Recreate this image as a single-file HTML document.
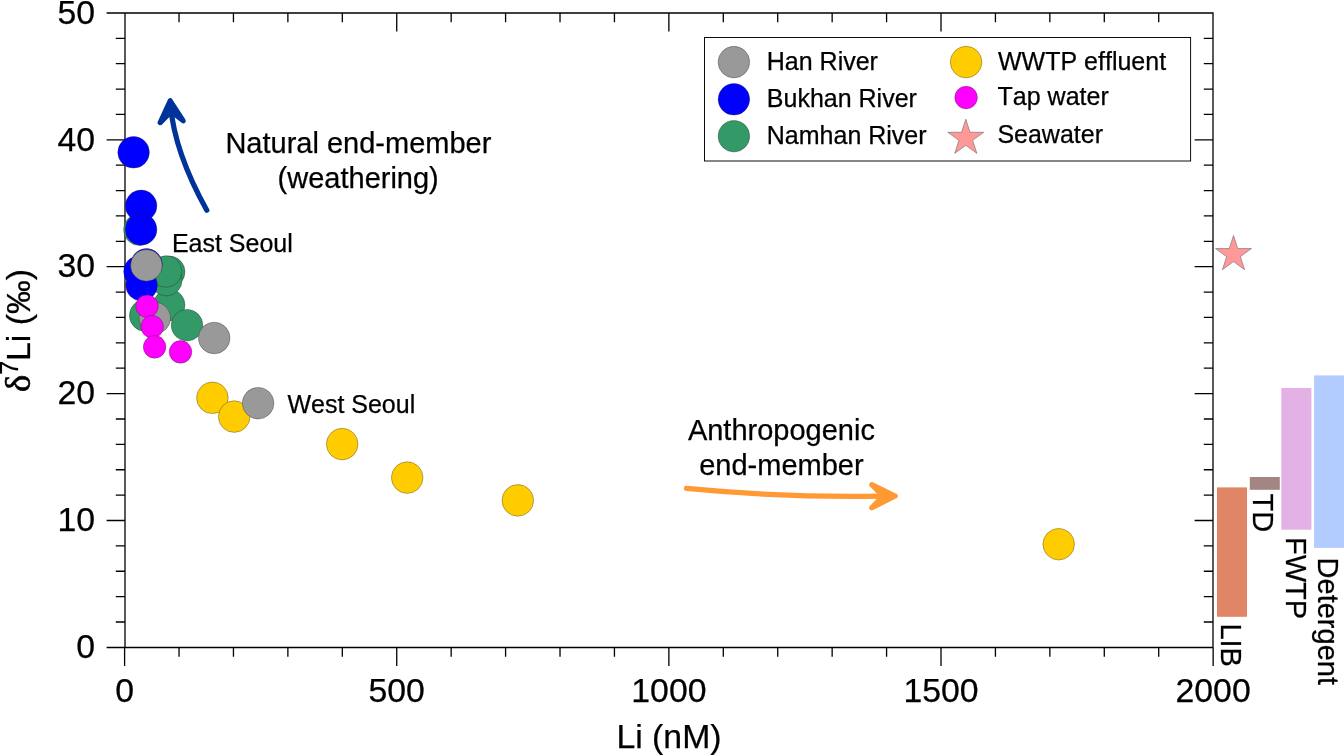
<!DOCTYPE html>
<html lang="en"><head><meta charset="utf-8"><title>Li isotopes vs Li concentration</title>
<style>html,body{margin:0;padding:0;background:#fff;}svg{display:block;}text{font-family:"Liberation Sans",Arial,Helvetica,sans-serif;fill:#000;stroke:#000;stroke-width:0.25px;font-kerning:none;}</style>
</head><body>
<svg width="1344" height="755" viewBox="0 0 1344 755">
<rect width="1344" height="755" fill="#fff"/>
<g>
<rect x="1217" y="487.4" width="30" height="129.4" fill="#E08566"/>
<rect x="1249.8" y="477" width="30" height="12.8" fill="#A38583"/>
<rect x="1281.3" y="388" width="30.1" height="141.7" fill="#E3B1E5"/>
<rect x="1314" y="375.4" width="31" height="172.5" fill="#B3CCFF"/>
</g>
<g stroke="#000" stroke-width="1.3" fill="none" stroke-linecap="butt">
<path d="M106.60 13.00H1213.65M106.60 647.50H1213.65M125.00 12.35V647.50M1213.00 12.35V647.50M124.60 647.50v18.40M1213.14 647.50v18.40"/>
<path d="M115.80 622.02H125.00M1203.80 622.02H1213.00M115.80 596.64H125.00M1203.80 596.64H1213.00M115.80 571.26H125.00M1203.80 571.26H1213.00M115.80 545.88H125.00M1203.80 545.88H1213.00M106.60 520.50H125.00M1194.60 520.50H1213.00M115.80 495.12H125.00M1203.80 495.12H1213.00M115.80 469.74H125.00M1203.80 469.74H1213.00M115.80 444.36H125.00M1203.80 444.36H1213.00M115.80 418.98H125.00M1203.80 418.98H1213.00M106.60 393.60H125.00M1194.60 393.60H1213.00M115.80 368.22H125.00M1203.80 368.22H1213.00M115.80 342.84H125.00M1203.80 342.84H1213.00M115.80 317.46H125.00M1203.80 317.46H1213.00M115.80 292.08H125.00M1203.80 292.08H1213.00M106.60 266.70H125.00M1194.60 266.70H1213.00M115.80 241.32H125.00M1203.80 241.32H1213.00M115.80 215.94H125.00M1203.80 215.94H1213.00M115.80 190.56H125.00M1203.80 190.56H1213.00M115.80 165.18H125.00M1203.80 165.18H1213.00M106.60 139.80H125.00M1194.60 139.80H1213.00M115.80 114.42H125.00M1203.80 114.42H1213.00M115.80 89.04H125.00M1203.80 89.04H1213.00M115.80 63.66H125.00M1203.80 63.66H1213.00M115.80 38.28H125.00M1203.80 38.28H1213.00M179.03 647.50v9.20M179.03 13.00v9.20M233.45 647.50v9.20M233.45 13.00v9.20M287.88 647.50v9.20M287.88 13.00v9.20M342.31 647.50v9.20M342.31 13.00v9.20M396.74 647.50v18.40M396.74 13.00v18.40M451.16 647.50v9.20M451.16 13.00v9.20M505.59 647.50v9.20M505.59 13.00v9.20M560.02 647.50v9.20M560.02 13.00v9.20M614.44 647.50v9.20M614.44 13.00v9.20M668.87 647.50v18.40M668.87 13.00v18.40M723.30 647.50v9.20M723.30 13.00v9.20M777.72 647.50v9.20M777.72 13.00v9.20M832.15 647.50v9.20M832.15 13.00v9.20M886.58 647.50v9.20M886.58 13.00v9.20M941.01 647.50v18.40M941.01 13.00v18.40M995.43 647.50v9.20M995.43 13.00v9.20M1049.86 647.50v9.20M1049.86 13.00v9.20M1104.29 647.50v9.20M1104.29 13.00v9.20M1158.71 647.50v9.20M1158.71 13.00v9.20"/>
</g>
<g font-size="33.8">
<text x="95.1" y="658.1" text-anchor="end">0</text>
<text x="95.1" y="531.2" text-anchor="end">10</text>
<text x="95.1" y="404.3" text-anchor="end">20</text>
<text x="95.1" y="277.4" text-anchor="end">30</text>
<text x="95.1" y="150.5" text-anchor="end">40</text>
<text x="95.1" y="23.6" text-anchor="end">50</text>
<text x="124.6" y="701.8" text-anchor="middle">0</text>
<text x="396.7" y="701.8" text-anchor="middle">500</text>
<text x="668.9" y="701.8" text-anchor="middle">1000</text>
<text x="941.0" y="701.8" text-anchor="middle">1500</text>
<text x="1213.1" y="701.8" text-anchor="middle">2000</text>
<text x="669" y="747.5" text-anchor="middle">Li (nM)</text>
<text transform="translate(30.2 330.5) rotate(-90)" text-anchor="middle"><tspan font-family="Liberation Serif,serif" font-size="36.5" stroke-width="0.6">δ</tspan><tspan font-size="25" dy="-12.4">7</tspan><tspan dy="12.4">Li (‰)</tspan></text>
</g>
<g font-size="29">
<text transform="translate(1221 623.4) rotate(90)">LIB</text>
<text transform="translate(1253.2 493.5) rotate(90)">TD</text>
<text transform="translate(1286.4 537) rotate(90)">FWTP</text>
<text transform="translate(1318.4 557.6) rotate(90)">Detergent</text>
</g>
<g stroke="#222" stroke-width="0.35">
<circle cx="139.4" cy="229.7" r="15.8" fill="#339966"/>
<circle cx="169.2" cy="305.1" r="15.8" fill="#339966"/>
<circle cx="145.2" cy="315.5" r="15.8" fill="#339966"/>
<circle cx="169.2" cy="271.8" r="15.8" fill="#339966"/>
<circle cx="166.3" cy="280.1" r="15.8" fill="#339966"/>
<circle cx="166.1" cy="271.5" r="15.8" fill="#339966"/>
<circle cx="187" cy="325.2" r="15.8" fill="#339966"/>
<circle cx="133.6" cy="152.3" r="15.8" fill="#0000FF"/>
<circle cx="141.1" cy="205.8" r="15.8" fill="#0000FF"/>
<circle cx="141.1" cy="229.4" r="15.8" fill="#0000FF"/>
<circle cx="139.5" cy="271.5" r="15.8" fill="#0000FF"/>
<circle cx="141.6" cy="285.2" r="15.8" fill="#0000FF"/>
<circle cx="146.5" cy="264.4" r="15.8" fill="#0000FF"/>
<circle cx="212.4" cy="397.8" r="15.8" fill="#FFCC00"/>
<circle cx="234.2" cy="416.6" r="15.8" fill="#FFCC00"/>
<circle cx="342.2" cy="444.1" r="15.8" fill="#FFCC00"/>
<circle cx="407.2" cy="477.6" r="15.8" fill="#FFCC00"/>
<circle cx="517.8" cy="500.4" r="15.8" fill="#FFCC00"/>
<circle cx="1058.7" cy="544.2" r="15.8" fill="#FFCC00"/>
<circle cx="154.8" cy="318" r="15.8" fill="#999999"/>
<circle cx="214.2" cy="338.0" r="15.8" fill="#999999"/>
<circle cx="258.1" cy="403.2" r="15.8" fill="#999999"/>
<circle cx="146.4" cy="265.4" r="15.8" fill="#999999"/>
<circle cx="147" cy="306.2" r="11.3" fill="#FF00FF"/>
<circle cx="152.2" cy="326.7" r="11.3" fill="#FF00FF"/>
<circle cx="154.6" cy="346.9" r="11.3" fill="#FF00FF"/>
<circle cx="180.5" cy="351.9" r="11.3" fill="#FF00FF"/>
<polygon points="1233.50,235.50 1237.74,248.56 1251.47,248.56 1240.37,256.63 1244.61,269.69 1233.50,261.62 1222.39,269.69 1226.63,256.63 1215.53,248.56 1229.26,248.56" fill="#FF9999" stroke="#555" stroke-width="0.5"/>
</g>
<g font-size="29" text-anchor="middle">
<text x="358.4" y="152.9">Natural end-member</text>
<text x="358.2" y="188">(weathering)</text>
<text x="781.4" y="440.2">Anthropogenic</text>
<text x="781.4" y="475.1">end-member</text>
</g>
<g font-size="25">
<text x="171.9" y="251.8">East Seoul</text>
<text x="287.4" y="412.8">West Seoul</text>
</g>
<g fill="none" stroke-linecap="round" stroke-linejoin="round" stroke-width="5.2">
<path d="M206.8 210.3C190 180 174 145 170.6 106" stroke="#003399"/>
<path d="M170.2 100.8L160.2 122.6L171.2 111.5L183.2 120.8Z" stroke="#003399" fill="#003399"/>
<path d="M686.4 488.4C740 493.5 810 497.5 880 496.2" stroke="#FF9933"/>
<path d="M895.2 496L871.8 484.7L883 496L871.8 507.8Z" stroke="#FF9933" fill="#FF9933"/>
</g>
<rect x="704.5" y="37.5" width="486.1" height="123.5" fill="#fff" stroke="#000" stroke-width="0.95"/>
<g stroke="#222" stroke-width="0.35">
<circle cx="733.9" cy="62.1" r="15.8" fill="#999999"/>
<circle cx="733.9" cy="99.3" r="15.8" fill="#0000FF"/>
<circle cx="733.9" cy="136.2" r="15.8" fill="#339966"/>
<circle cx="966.1" cy="62.1" r="15.8" fill="#FFCC00"/>
<circle cx="966.1" cy="97.6" r="11.3" fill="#FF00FF"/>
<polygon points="965.80,119.20 970.04,132.26 983.77,132.26 972.67,140.33 976.91,153.39 965.80,145.32 954.69,153.39 958.93,140.33 947.83,132.26 961.56,132.26" fill="#FF9999" stroke="#555" stroke-width="0.5"/>
</g>
<g font-size="25">
<text x="766.8" y="70.3">Han River</text>
<text x="766.8" y="106.9">Bukhan River</text>
<text x="766.8" y="143.8">Namhan River</text>
<text x="998" y="69.7">WWTP effluent</text>
<text x="997.6" y="105">Tap water</text>
<text x="997.4" y="143.2">Seawater</text>
</g>
</svg>
</body></html>
